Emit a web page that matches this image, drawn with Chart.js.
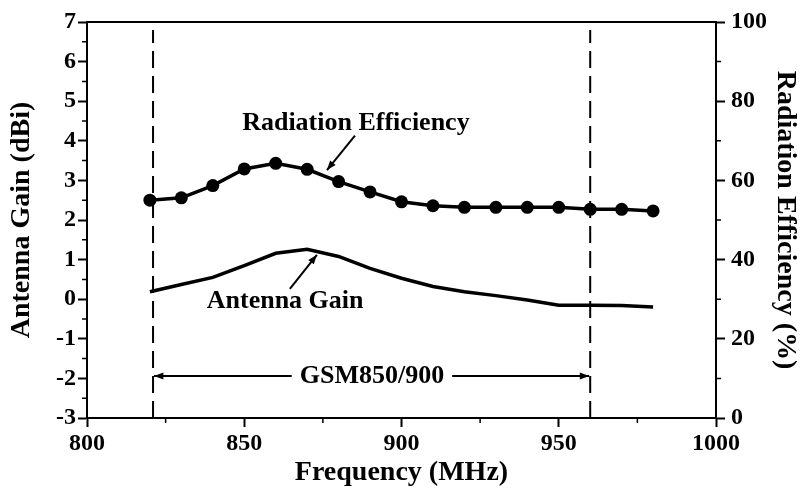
<!DOCTYPE html>
<html>
<head>
<meta charset="utf-8">
<script src="https://cdn.jsdelivr.net/npm/chart.js@4.4.1/dist/chart.umd.min.js"></script>
<style>
  html, body { margin: 0; padding: 0; background: #fff; }
  canvas { display: block; }
</style>
</head>
<body>
<canvas id="grafico" width="809" height="492"></canvas>
<script>
// data
const freqs = [820, 830, 840, 850, 860, 870, 880, 890, 900, 910, 920, 930, 940, 950, 960, 970, 980];
const gainDbi = [0.19, 0.37, 0.55, 0.85, 1.16, 1.26, 1.08, 0.78, 0.53, 0.32, 0.19, 0.09, -0.02, -0.15, -0.15, -0.16, -0.2];
const efficiency = [55.0, 55.6, 58.7, 62.9, 64.3, 62.8, 59.7, 57.1, 54.6, 53.6, 53.2, 53.2, 53.2, 53.2, 52.7, 52.7, 52.3];
const bandEdges = [821, 960];
const bandLabel = 'GSM850/900';

const FONT = 'Liberation Serif';
const tickFont = { family: FONT, size: 24, weight: 'bold' };
const titleFont = { family: FONT, size: 28, weight: 'bold' };

const toPoints = (xs, ys) => xs.map((x, i) => ({ x: x, y: ys[i] }));

const bandSets = bandEdges.map(f => ({
    data: [{ x: f, y: -3 }, { x: f, y: 6.8 }],
    yAxisID: 'y',
    borderColor: '#000',
    borderWidth: 2,
    borderDash: [17, 8],
    pointRadius: 0
}));

// minor ticks, top border and the text notes
const extras = {
    id: 'extras',
    afterDraw(chart) {
        const { ctx, chartArea, scales } = chart;
        const { x, y, y2 } = scales;
        ctx.save();
        ctx.strokeStyle = '#000';
        ctx.lineWidth = 2;

        // top border
        ctx.beginPath();
        ctx.moveTo(chartArea.left - 1, chartArea.top);
        ctx.lineTo(chartArea.right + 1, chartArea.top);
        ctx.stroke();

        // minor ticks
        ctx.lineWidth = 1.5;
        ctx.beginPath();
        for (let v = 825; v < 1000; v += 50) {
            const px = x.getPixelForValue(v);
            ctx.moveTo(px, chartArea.bottom);
            ctx.lineTo(px, chartArea.bottom + 5);
        }
        for (let v = -2.5; v < 7; v += 1) {
            const py = y.getPixelForValue(v);
            ctx.moveTo(chartArea.left, py);
            ctx.lineTo(chartArea.left - 5, py);
        }
        for (let v = 10; v < 100; v += 20) {
            const py = y2.getPixelForValue(v);
            ctx.moveTo(chartArea.right, py);
            ctx.lineTo(chartArea.right + 5, py);
        }
        ctx.stroke();

        const X = v => x.getPixelForValue(v);
        const Y = v => y.getPixelForValue(v);

        function arrow(x1, y1, x2, y2) {
            const a = Math.atan2(y2 - y1, x2 - x1);
            const h = 10;
            ctx.beginPath();
            ctx.moveTo(x1, y1);
            ctx.lineTo(x2, y2);
            ctx.stroke();
            ctx.beginPath();
            ctx.moveTo(x2, y2);
            ctx.lineTo(x2 - h * Math.cos(a - 0.36), y2 - h * Math.sin(a - 0.36));
            ctx.lineTo(x2 - h * Math.cos(a + 0.36), y2 - h * Math.sin(a + 0.36));
            ctx.closePath();
            ctx.fill();
        }

        ctx.fillStyle = '#000';
        ctx.lineWidth = 2;
        ctx.font = 'bold 26px ' + FONT;
        ctx.textAlign = 'center';
        ctx.textBaseline = 'middle';

        ctx.fillText('Radiation Efficiency', X(885.5), Y(4.45));
        arrow(X(885.2), Y(4.13), X(876.3), Y(3.26));

        ctx.fillText('Antenna Gain', X(863), Y(-0.05));
        arrow(X(864.5), Y(0.26), X(873.1), Y(1.12));

        const gy = Y(-1.94);
        const gx = X(890.6);
        ctx.fillText(bandLabel, gx, gy);
        const half = ctx.measureText(bandLabel).width / 2;
        arrow(gx - half - 8, gy, X(bandEdges[0]) + 1, gy);
        arrow(gx + half + 8, gy, X(bandEdges[1]) - 1, gy);

        ctx.restore();
    }
};

new Chart(document.getElementById('grafico'), {
    type: 'line',
    data: {
        datasets: [
            {
                data: toPoints(freqs, efficiency),
                yAxisID: 'y2',
                borderColor: '#000',
                backgroundColor: '#000',
                borderWidth: 3.5,
                pointRadius: 6.5,
                pointBorderWidth: 0
            },
            {
                data: toPoints(freqs, gainDbi),
                yAxisID: 'y',
                borderColor: '#000',
                borderWidth: 3.5,
                pointRadius: 0
            },
            ...bandSets
        ]
    },
    options: {
        responsive: false,
        animation: false,
        devicePixelRatio: 1,
        layout: { padding: { top: 22, left: 0, right: 0, bottom: 0 } },
        plugins: {
            legend: { display: false },
            tooltip: { enabled: false }
        },
        scales: {
            x: {
                type: 'linear',
                min: 800,
                max: 1000,
                ticks: { stepSize: 50, color: '#000', font: tickFont, padding: 2, maxRotation: 0, callback: v => String(v) },
                grid: { drawOnChartArea: false, tickLength: 9, tickColor: '#000', tickWidth: 2 },
                border: { color: '#000', width: 2 },
                title: { display: true, text: 'Frequency (MHz)', color: '#000', font: titleFont, padding: { top: 0, bottom: 2 } },
                afterFit(scale) { scale.height = 74; }
            },
            y: {
                position: 'left',
                min: -3,
                max: 7,
                ticks: { stepSize: 1, color: '#000', font: tickFont, padding: 2 },
                grid: { drawOnChartArea: false, tickLength: 9, tickColor: '#000', tickWidth: 2 },
                border: { color: '#000', width: 2 },
                title: { display: true, text: 'Antenna Gain (dBi)', color: '#000', font: titleFont, padding: { top: 5, bottom: 0 } },
                afterFit(scale) { scale.width = 87; }
            },
            y2: {
                position: 'right',
                min: 0,
                max: 100,
                ticks: { stepSize: 20, color: '#000', font: tickFont, padding: 6 },
                grid: { drawOnChartArea: false, tickLength: 9, tickColor: '#000', tickWidth: 2 },
                border: { color: '#000', width: 2 },
                title: { display: true, text: 'Radiation Efficiency (%)', color: '#000', font: titleFont, padding: { top: 7, bottom: 0 } },
                afterFit(scale) { scale.width = 93; }
            }
        }
    },
    plugins: [extras]
});
</script>
</body>
</html>
